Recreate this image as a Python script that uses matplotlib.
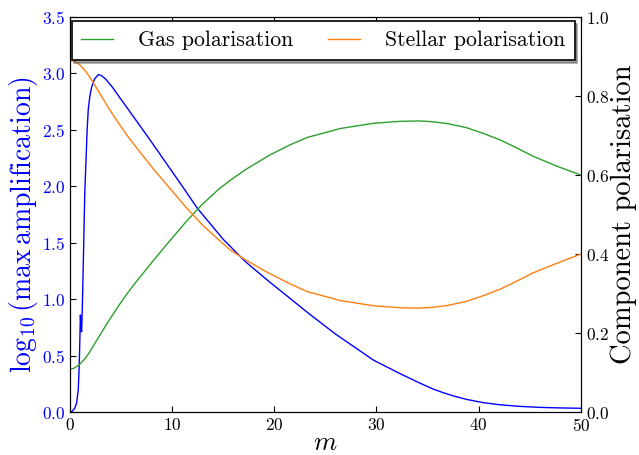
import numpy as np
import matplotlib
matplotlib.use("Agg")
import matplotlib.pyplot as plt

plt.rcParams['font.family'] = 'serif'
plt.rcParams['font.serif'] = ['cmr10']
plt.rcParams['mathtext.fontset'] = 'cm'
plt.rcParams['axes.formatter.use_mathtext'] = True

# max amplification (left axis, log10)
m_amp = [0, 0.2, 0.45, 0.65, 0.81, 0.9, 0.97, 1.02, 1.08, 1.14, 1.2, 1.27, 1.37,
         1.45, 1.57, 1.68, 1.79, 1.95, 2.12, 2.4, 2.77, 3.1, 3.5, 4.14, 5, 6.43, 8,
         9.69, 11, 12.46, 15, 17.2, 19.5, 21.5, 23.2, 26, 29.7, 32.3, 34.2, 35.5, 36.5,
         37.5, 38.8, 40.5, 42.1, 44, 46, 48, 50]
log_amp = [0, 0.005, 0.03, 0.08, 0.195, 0.4, 0.65, 0.86, 0.76, 0.71, 0.9, 1.17, 1.6,
           1.95, 2.23, 2.5, 2.68, 2.8, 2.88, 2.95, 2.99, 2.98, 2.95, 2.88, 2.77,
           2.59, 2.39, 2.17, 2.0, 1.806, 1.53, 1.33, 1.155, 1.01, 0.885, 0.69, 0.46, 0.34,
           0.258, 0.205, 0.172, 0.143, 0.112, 0.082, 0.064, 0.05, 0.041, 0.036, 0.033]

# component polarisation (right axis)
m_pol = [0, 0.4, 0.88, 1.4, 1.86, 2.84, 3.82, 4.79, 5.6, 6.43, 8.05, 9.69, 11.3, 12.95,
         14.6, 15.7, 17.2, 19.5, 21.5, 23.2, 26.5, 29.7, 32.3, 34.2, 35.5, 37, 38.8,
         40.5, 42.1, 43.7, 45.3, 47.6, 50]
gas_pol = [0.108, 0.111, 0.119, 0.133, 0.149, 0.191, 0.232, 0.27, 0.30, 0.328, 0.38,
           0.431, 0.48, 0.526, 0.565, 0.587, 0.614, 0.650, 0.676, 0.695, 0.718, 0.731,
           0.736, 0.737, 0.735, 0.730, 0.720, 0.705, 0.689, 0.669, 0.648, 0.623, 0.60]
stellar_pol = [0.891, 0.888, 0.881, 0.867, 0.851, 0.81, 0.768, 0.73, 0.70, 0.672, 0.619,
               0.569, 0.52, 0.474, 0.435, 0.41, 0.385, 0.351, 0.325, 0.305, 0.282, 0.269,
               0.264, 0.263, 0.265, 0.27, 0.28, 0.295, 0.311, 0.331, 0.352, 0.376, 0.40]

fig = plt.figure(figsize=(6.39, 4.55), dpi=100)
ax = fig.add_axes([0.1095, 0.0945, 0.7995, 0.868])
ax2 = ax.twinx()

ax.plot(m_amp, log_amp, color='b', lw=1.0)
ax2.plot(m_pol, gas_pol, color='#2ca02c', lw=1.0, label='Gas polarisation')
ax2.plot(m_pol, stellar_pol, color='#ff7f0e', lw=1.0, label='Stellar polarisation')

ax.set_xlim(0, 50)
ax.set_ylim(0, 3.5)
ax2.set_ylim(0, 1.0)
ax.set_xticks([0, 10, 20, 30, 40, 50])
ax.set_yticks(np.arange(0, 3.51, 0.5))
ax2.set_yticks([0, 0.2, 0.4, 0.6, 0.8, 1.0])

ax.tick_params(direction='in', length=4, labelsize=12.5, top=True)
ax.tick_params(axis='y', labelcolor='b')
ax2.tick_params(direction='in', length=4, labelsize=12.5)

ax.set_xlabel(r'$m$', fontsize=19, labelpad=-2)
ax.set_ylabel(r'$\log_{10}(\max\,\mathrm{amplification})$', color='b', fontsize=20)
ax.yaxis.set_label_coords(-0.058, 0.475)
ax2.set_ylabel('Component polarisation', fontsize=20.5, labelpad=1)

leg = ax2.legend(loc='upper left', bbox_to_anchor=(0.003, 0.99, 0.985, 0), mode='expand',
                 ncol=2, fontsize=15.7, fancybox=False, shadow=True, edgecolor='black',
                 framealpha=1, borderaxespad=0, borderpad=0.45, handlelength=1.46,
                 handletextpad=1.13, columnspacing=1.4)
leg.get_frame().set_linewidth(1.2)

fig.savefig('out.png', dpi=100)
